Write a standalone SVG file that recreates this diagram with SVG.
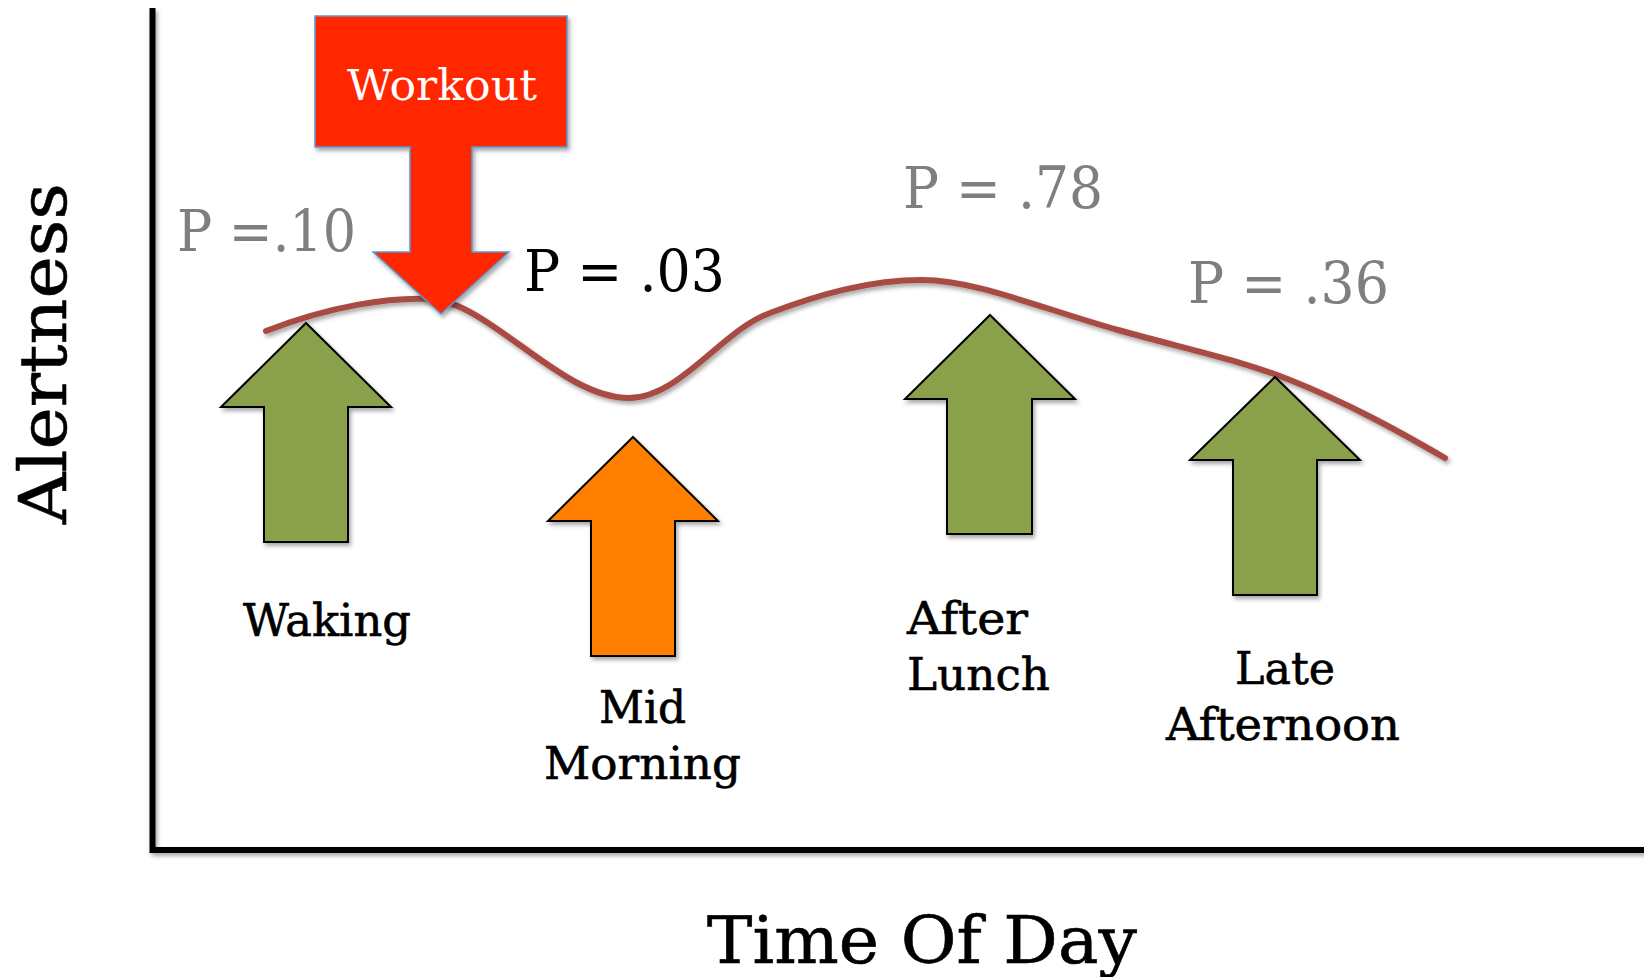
<svg xmlns="http://www.w3.org/2000/svg" width="1644" height="977" viewBox="0 0 1644 977">
  <defs>
    <filter id="shadow" x="-10%" y="-10%" width="130%" height="130%">
      <feDropShadow dx="2" dy="3" stdDeviation="2" flood-color="#000" flood-opacity="0.35"/>
    </filter>
    <style>
      .axis { stroke: #000; stroke-width: 6; fill: none; filter: url(#shadow); }
      .curve { stroke: #a84b42; stroke-width: 6; fill: none; stroke-linecap: round; filter: url(#shadow); }
      .up { stroke: #000; stroke-width: 2; stroke-linejoin: miter; filter: url(#shadow); }
      .green { fill: #8aa04b; }
      .orange { fill: #ff7f00; }
      .down { fill: #ff2600; stroke: #5b9bd5; stroke-width: 1.5; filter: url(#shadow); }
      .txt { font-family: "DejaVu Serif", "Liberation Serif", serif; }
      .label { font-size: 44px; fill: #000; stroke: #000; stroke-width: 0.6; }
      .pval { font-size: 57px; fill: #7f7f7f; }
      .pdark { fill: #000; }
      .title { font-size: 66px; fill: #000; stroke: #000; stroke-width: 0.6; }
    </style>
  </defs>

  <rect width="1644" height="977" fill="#fff"/>

  <!-- chart axes -->
  <g id="axes">
    <polyline class="axis" points="152.5,8 152.5,850 1644,850"/>
  </g>

  <!-- axis titles -->
  <g id="axis-titles" class="txt">
    <text class="title" x="707" y="963" textLength="430" lengthAdjust="spacingAndGlyphs">Time Of Day</text>
    <text class="title" x="66" y="353.5" text-anchor="middle" textLength="341" lengthAdjust="spacingAndGlyphs" font-size="68" transform="rotate(-90 66 353.5)">Alertness</text>
  </g>

  <!-- alertness curve -->
  <g id="connectors">
    <path class="curve" d="M 266 331 C 330 306, 390 297, 430 299 C 490 302, 560 398, 629 398 C 680 398, 722 330, 770 313 C 820 294, 870 280, 922 280 C 975 280, 1040 308, 1118 330 C 1190 350, 1240 360, 1290 380 C 1350 404, 1400 432, 1445 458"/>
  </g>

  <!-- probability labels -->
  <g id="p-values" class="txt">
    <text class="pval" x="177" y="251" textLength="179" lengthAdjust="spacingAndGlyphs">P =.10</text>
    <text class="pval pdark" x="524" y="291" textLength="201" lengthAdjust="spacingAndGlyphs">P = .03</text>
    <text class="pval" x="903" y="208" textLength="200" lengthAdjust="spacingAndGlyphs">P = .78</text>
    <text class="pval" x="1188" y="303" textLength="201" lengthAdjust="spacingAndGlyphs">P = .36</text>
  </g>

  <!-- workout marker -->
  <g id="workout">
    <polygon class="down" points="315,16 567,16 567,147 472,147 472,252 509,252 441,314 373,252 410,252 410,147 315,147"/>
    <text class="txt" x="442" y="100" text-anchor="middle" font-size="42" fill="#fff" textLength="190" lengthAdjust="spacingAndGlyphs">Workout</text>
  </g>

  <!-- time-of-day markers -->
  <g id="waking">
    <polygon class="up green" points="306,323 391,407 348,407 348,542 264,542 264,407 221,407"/>
    <text class="txt label" x="243" y="636" textLength="168" lengthAdjust="spacingAndGlyphs">Waking</text>
  </g>

  <g id="mid-morning">
    <polygon class="up orange" points="633,437 718,521 675,521 675,656 591,656 591,521 548,521"/>
    <text class="txt label" x="599" y="723" textLength="87" lengthAdjust="spacingAndGlyphs">Mid</text>
    <text class="txt label" x="544" y="779" textLength="197" lengthAdjust="spacingAndGlyphs">Morning</text>
  </g>

  <g id="after-lunch">
    <polygon class="up green" points="990,315 1075,399 1032,399 1032,534 947,534 947,399 905,399"/>
    <text class="txt label" x="907" y="634" textLength="121" lengthAdjust="spacingAndGlyphs">After</text>
    <text class="txt label" x="907" y="690" textLength="143" lengthAdjust="spacingAndGlyphs">Lunch</text>
  </g>

  <g id="late-afternoon">
    <polygon class="up green" points="1275,377 1360,460 1317,460 1317,595 1233,595 1233,460 1190,460"/>
    <text class="txt label" x="1235" y="684" textLength="100" lengthAdjust="spacingAndGlyphs">Late</text>
    <text class="txt label" x="1166" y="740" textLength="234" lengthAdjust="spacingAndGlyphs">Afternoon</text>
  </g>
</svg>
